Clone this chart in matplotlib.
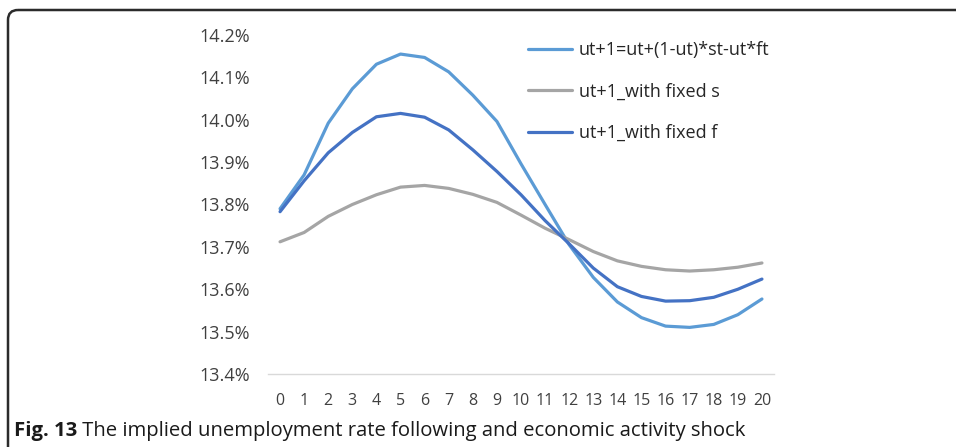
import matplotlib
matplotlib.use("Agg")
import matplotlib.pyplot as plt
from matplotlib.patches import FancyBboxPatch
from matplotlib.ticker import FuncFormatter
import numpy as np

# periods after the shock
periods = list(range(21))

# unemployment rate, in percent
u_full = [13.790, 13.870, 13.992, 14.073, 14.131, 14.155, 14.147, 14.113, 14.058, 13.996, 13.896,
          13.800, 13.705, 13.628, 13.570, 13.533, 13.513, 13.510, 13.517, 13.540, 13.577]
u_fixed_s = [13.712, 13.734, 13.772, 13.800, 13.823, 13.841, 13.845, 13.838, 13.824, 13.805, 13.775,
             13.744, 13.717, 13.689, 13.667, 13.654, 13.646, 13.643, 13.646, 13.652, 13.662]
u_fixed_f = [13.783, 13.856, 13.922, 13.970, 14.007, 14.015, 14.006, 13.976, 13.929, 13.878, 13.823,
             13.762, 13.707, 13.650, 13.606, 13.583, 13.572, 13.573, 13.581, 13.600, 13.624]

labels = ["ut+1=ut+(1-ut)*st-ut*ft", "ut+1_with fixed s", "ut+1_with fixed f"]
colors = ["#5B9BD5", "#A5A5A5", "#4472C4"]
yticks = [13.4, 13.5, 13.6, 13.7, 13.8, 13.9, 14.0, 14.1, 14.2]

caption_bold = "Fig. 13"
caption_rest = " The implied unemployment rate following and economic activity shock"

W, H = 956, 447
fig = plt.figure(figsize=(W / 100, H / 100), dpi=100)

# frame around the figure (pixel coords)
bg = fig.add_axes([0, 0, 1, 1])
bg.set_xlim(0, W)
bg.set_ylim(H, 0)
bg.axis("off")
frame = FancyBboxPatch((8, 10), W + 40, H + 40, boxstyle="round,pad=0,rounding_size=10",
                       fc="none", ec="#2b2b2b", lw=1.8)
bg.add_patch(frame)

ax = fig.add_axes([268 / W, 1 - 374 / H, 506 / W, (374 - 35) / H])
for vals, lab, c in zip([u_full, u_fixed_s, u_fixed_f], labels, colors):
    ax.plot(periods, vals, color=c, lw=2.3, label=lab, solid_capstyle="round")

ax.set_xlim(-0.5, 20.5)
ax.set_ylim(13.4, 14.2)
ax.set_yticks(yticks)
ax.set_xticks(periods)
ax.yaxis.set_major_formatter(FuncFormatter(lambda v, p: f"{v:.1f}%"))
for s in ["top", "right", "left"]:
    ax.spines[s].set_visible(False)
ax.spines["bottom"].set_color("#D9D9D9")
ax.spines["bottom"].set_linewidth(1.0)
ax.tick_params(length=0, colors="#404040")
ax.tick_params(axis="y", pad=13, labelsize=13)
ax.tick_params(axis="x", pad=14, labelsize=11.5)
for t in ax.get_xticklabels() + ax.get_yticklabels():
    t.set_fontfamily("Open Sans")

leg = ax.legend(loc="upper left", bbox_to_anchor=(512 / W, 1 - 25 / H), bbox_transform=fig.transFigure,
                frameon=False, handlelength=2.45, handletextpad=0.35, labelspacing=1.3,
                prop={"family": "Open Sans", "size": 13})
for t in leg.get_texts():
    t.set_color("#262626")

# caption
fig.canvas.draw()
r = fig.canvas.get_renderer()
t1 = fig.text(14 / W, 1 - 436 / H, caption_bold, fontfamily="Open Sans", fontweight="bold",
              fontsize=14.6, color="#1a1a1a", va="baseline")
bb = t1.get_window_extent(r)
fig.text(bb.x1 / W, 1 - 436 / H, caption_rest, fontfamily="Open Sans", fontsize=14.6,
         color="#1a1a1a", va="baseline")

fig.savefig("out.png", dpi=100)
